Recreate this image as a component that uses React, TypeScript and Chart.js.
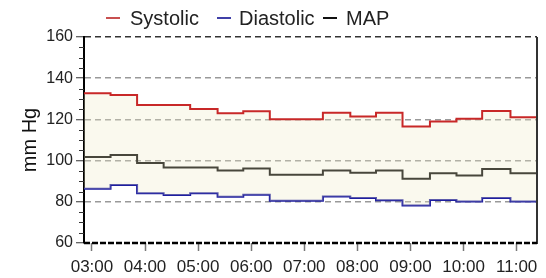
import React, { useEffect, useRef } from "react";
import { Chart, registerables } from "chart.js";

Chart.register(...registerables);

// Reading times (each value holds until the next reading)
const times = [
  "02:51", "03:21", "03:51", "04:21", "04:51", "05:22", "05:51", "06:21", "06:51",
  "07:21", "07:52", "08:21", "08:51", "09:22", "09:52", "10:21", "10:53", "11:23",
];
const systolic = [
  132.7, 131.9, 127, 127, 125, 123, 124, 120.1, 120.1,
  123.2, 121.4, 123.2, 116.5, 119, 120.3, 124.1, 121.1, 121.1,
];
const diastolic = [
  86.3, 88.1, 84.2, 83.3, 84.2, 82.4, 83.4, 80.5, 80.5,
  82.6, 81.8, 80.8, 78.2, 80.9, 80.2, 81.8, 80.2, 80.2,
];
const mapValues = [
  101.7, 102.7, 98.8, 96.6, 96.6, 95.2, 96.2, 93.1, 93.1,
  95.2, 94.1, 95.2, 91.2, 93.9, 92.8, 95.9, 93.9, 93.9,
];
const hourTicks = ["03:00", "04:00", "05:00", "06:00", "07:00", "08:00", "09:00", "10:00", "11:00"];
const yMin = 60;
const yMax = 160;
const yStep = 20;
const yMinorStep = 5;
const seriesLabels = ["Systolic", "Diastolic", "MAP"];
const seriesColors = ["#C82828", "#1E1EA0", "#000000"];
const legendMarkerColors = ["#C85050", "#4040A8", "#111111"];
const yTitle = "mm Hg";

const toMin = (s: string) => {
  const [h, m] = s.split(":").map(Number);
  return h * 60 + m;
};
const fmt = (v: number) => {
  const h = Math.floor(v / 60);
  const m = Math.round(v % 60);
  return String(h).padStart(2, "0") + ":" + String(m).padStart(2, "0");
};

const FONT = "'Liberation Sans', Arial, sans-serif";

const framePlugin = {
  id: "frame",
  afterDraw(chart: any) {
    const { ctx, chartArea } = chart;
    const { left, right, top, bottom } = chartArea;
    const y = chart.scales.y;
    ctx.save();
    // minor ticks on y axis
    ctx.strokeStyle = "#333";
    ctx.lineWidth = 1;
    for (let v = yMin + yMinorStep; v < yMax; v += yMinorStep) {
      if (v % yStep === 0) continue;
      const py = Math.round(y.getPixelForValue(v)) + 0.5;
      ctx.beginPath();
      ctx.moveTo(left - 5, py);
      ctx.lineTo(left, py);
      ctx.stroke();
    }
    // right border
    ctx.strokeStyle = "#333";
    ctx.lineWidth = 2;
    ctx.beginPath();
    ctx.moveTo(right, top);
    ctx.lineTo(right, bottom + 1);
    ctx.stroke();
    // bottom dashed axis line
    ctx.strokeStyle = "#000";
    ctx.lineWidth = 2.5;
    ctx.setLineDash([6, 2]);
    ctx.beginPath();
    ctx.moveTo(left, bottom);
    ctx.lineTo(right, bottom);
    ctx.stroke();
    ctx.restore();
  },
};

export default function App() {
  const canvasRef = useRef<HTMLCanvasElement | null>(null);

  useEffect(() => {
    if (!canvasRef.current) return;
    const xs = times.map(toMin);
    const mk = (vals: number[]) => vals.map((v, i) => ({ x: xs[i], y: v }));
    const chart = new Chart(canvasRef.current, {
      type: "line",
      data: {
        datasets: [
          {
            label: seriesLabels[0],
            data: mk(systolic),
            borderColor: seriesColors[0],
            backgroundColor: "rgba(238,234,200,0.3)",
            fill: 1,
            stepped: "before",
            borderWidth: 2,
            pointRadius: 0,
          },
          {
            label: seriesLabels[1],
            data: mk(diastolic),
            borderColor: seriesColors[1],
            backgroundColor: "rgba(0,0,0,0)",
            fill: false,
            stepped: "before",
            borderWidth: 2,
            pointRadius: 0,
          },
          {
            label: seriesLabels[2],
            data: mk(mapValues),
            borderColor: seriesColors[2],
            backgroundColor: "rgba(0,0,0,0)",
            fill: false,
            stepped: "before",
            borderWidth: 2,
            pointRadius: 0,
          },
        ],
      },
      options: {
        animation: false,
        responsive: false,
        devicePixelRatio: 1,
        layout: { padding: { top: 37, right: 9, left: 0, bottom: 0 } },
        plugins: {
          legend: { display: false },
          tooltip: { enabled: false },
        },
        scales: {
          x: {
            type: "linear",
            min: xs[0],
            max: xs[xs.length - 1],
            afterBuildTicks: (s: any) => {
              s.ticks = hourTicks.map((h) => ({ value: toMin(h) }));
            },
            afterFit: (s: any) => {
              s.height = 35;
            },
            ticks: {
              color: "#222",
              font: { family: FONT, size: 17 },
              padding: 6,
              maxRotation: 0,
              autoSkip: false,
              callback: (v: any) => fmt(Number(v)),
            },
            grid: {
              drawOnChartArea: false,
              drawTicks: true,
              tickLength: 8,
              tickColor: "#777",
              tickWidth: 1.5,
            },
            border: { display: false },
          },
          y: {
            min: yMin,
            max: yMax,
            afterFit: (s: any) => {
              s.width = 84;
            },
            ticks: {
              stepSize: yStep,
              color: "#222",
              font: { family: FONT, size: 16 },
              padding: 3,
            },
            grid: {
              color: (c: any) =>
                c.tick && c.tick.value === yMax
                  ? "#333"
                  : c.tick && c.tick.value === yMin
                  ? "rgba(0,0,0,0)"
                  : "#999",
              lineWidth: 1.5,
              tickLength: 8,
              tickColor: "#333",
              tickWidth: 1,
            },
            border: { display: true, color: "#000", width: 2, dash: [6, 4] },
            title: {
              display: true,
              text: yTitle,
              color: "#111",
              font: { family: FONT, size: 20 },
              padding: { top: 18, bottom: 0 },
            },
          },
        },
      },
      plugins: [framePlugin],
    } as any);
    return () => chart.destroy();
  }, []);

  const legendPos = [
    { marker: 106, text: 130 },
    { marker: 217, text: 239 },
    { marker: 323, text: 346 },
  ];

  return (
    <div style={{ position: "fixed", left: 0, top: 0, width: 546, height: 278, background: "#fff" }}>
      <canvas
        ref={canvasRef}
        width={546}
        height={278}
        style={{ position: "absolute", left: 0, top: 0, width: 546, height: 278 }}
      />
      {seriesLabels.map((lab, i) => (
        <React.Fragment key={lab}>
          <div
            style={{
              position: "absolute",
              left: legendPos[i].marker,
              top: 17,
              width: 14,
              height: 2,
              background: legendMarkerColors[i],
            }}
          />
          <span
            style={{
              position: "absolute",
              left: legendPos[i].text,
              top: 8,
              fontFamily: FONT,
              fontSize: 20,
              lineHeight: "21px",
              color: "#222",
              whiteSpace: "nowrap",
            }}
          >
            {lab}
          </span>
        </React.Fragment>
      ))}
    </div>
  );
}
